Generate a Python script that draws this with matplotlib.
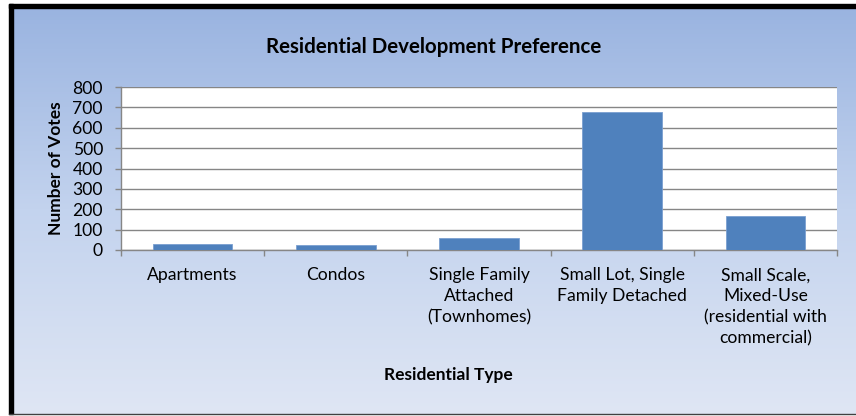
import numpy as np
import matplotlib
matplotlib.use("Agg")
import matplotlib.pyplot as plt
from matplotlib.patches import Rectangle
from matplotlib.colors import LinearSegmentedColormap

plt.rcParams['font.family'] = ['Lato', 'DejaVu Sans']

# ---- data ----
categories = ["Apartments", "Condos", "Single Family\nAttached\n(Townhomes)",
              "Small Lot, Single\nFamily Detached",
              "Small Scale,\nMixed-Use\n(residential with\ncommercial)"]
votes = [31, 23, 57, 679, 165]
y_ticks = [0, 100, 200, 300, 400, 500, 600, 700, 800]
title = "Residential Development Preference"
x_label = "Residential Type"
y_label = "Number of Votes"

W, H = 856, 416
fig = plt.figure(figsize=(W / 100, H / 100), dpi=100)
fig.patch.set_facecolor("white")

# background with gradient + borders
bg = fig.add_axes([0, 0, 1, 1])
bg.set_xlim(0, W)
bg.set_ylim(H, 0)
bg.axis("off")
cmap = LinearSegmentedColormap.from_list("g", ["#99b3e0", "#c3d3ee", "#dfe6f4"])
grad = np.linspace(0, 1, 256).reshape(-1, 1)
bg.imshow(grad, cmap=cmap, aspect="auto", extent=(9, W, 414, 4), zorder=0)
bg.add_patch(Rectangle((9, 4), W - 9, 4, color="black", zorder=1))
bg.add_patch(Rectangle((9, 4), 4, 410, color="black", zorder=1))
bg.plot([9, W], [413.5, 413.5], color="#404040", lw=1.0, zorder=1)
bg.set_xlim(0, W)
bg.set_ylim(H, 0)

# plot area
L, R, T, B = 121, 837, 87, 250
ax = fig.add_axes([L / W, (H - B) / H, (R - L) / W, (B - T) / H])
ax.set_facecolor("white")
x = np.arange(len(categories))
ax.bar(x, votes, width=0.556, color="#4f81bd", edgecolor="#7a9fd0",
       linewidth=0.6, zorder=3)
ax.set_xlim(-0.5, len(categories) - 0.5)
ax.set_ylim(0, 800)
ax.set_yticks(y_ticks)
ax.set_yticklabels([str(v) for v in y_ticks])
ax.yaxis.grid(True, color="#868686", lw=1.0, zorder=1)
ax.set_axisbelow(True)
for s in ["top", "right"]:
    ax.spines[s].set_visible(False)
for s in ["left", "bottom"]:
    ax.spines[s].set_color("#868686")
    ax.spines[s].set_linewidth(1.0)

ax.set_xticks(np.arange(-0.5, len(categories), 1.0))
ax.set_xticklabels([])
ax.set_xticks(x, categories, minor=True)
ax.tick_params(axis="x", which="major", direction="out", length=4,
               color="#868686", width=1.0)
ax.tick_params(axis="x", which="minor", length=0, pad=12.5, labelsize=12.6)
for t in ax.get_xticklabels(minor=True):
    t.set_linespacing(1.38)
    t.set_ha("center")
ax.tick_params(axis="y", direction="out", length=4, color="#868686",
               width=1.0, pad=9, labelsize=12.6)

fig.text(434 / W, 1 - 47 / H, title, ha="center", va="center",
         fontsize=14.8, fontweight="bold")
fig.text(56 / W, 1 - 168 / H, y_label, ha="center", va="center",
         rotation=90, fontsize=12.5, fontweight="bold")
fig.text(448 / W, 1 - 375 / H, x_label, ha="center", va="center",
         fontsize=12.5, fontweight="bold")

fig.savefig("out.png", dpi=100, facecolor="white")
